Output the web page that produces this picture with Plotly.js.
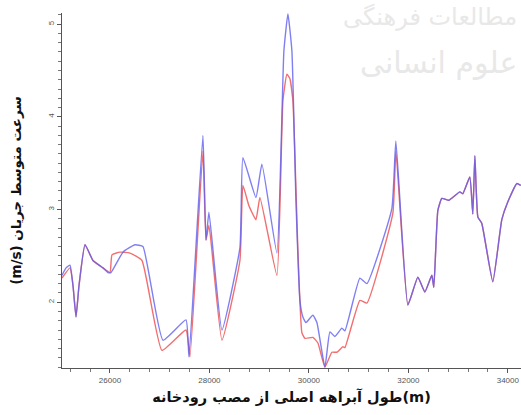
<!DOCTYPE html>
<html>
<head>
<meta charset="utf-8">
<script src="https://cdn.plot.ly/plotly-3.0.1.min.js"></script>
<style>html,body{margin:0;padding:0;background:#fff;}#chart{width:521px;height:415px;}</style>
</head>
<body>
<div id="chart"></div>
<script>
// Distance along main channel from river mouth (m)
const blueX = [25035,25116,25196,25256,25317,25377,25498,25658,25859,25960,26020,26261,26503,26663,27065,27528,27588,27869,27930,27990,28251,28613,28673,28935,29055,29357,29497,29578,29658,29739,29819,29879,29940,30080,30161,30322,30422,30523,30663,30724,31025,31166,31668,31749,31990,32191,32332,32472,32512,32593,32673,32814,32914,33035,33095,33236,33296,33337,33397,33477,33698,33879,33999,34181,34261];
const blueY = [2.29,2.37,2.40,2.18,1.84,2.18,2.62,2.45,2.37,2.32,2.32,2.54,2.62,2.60,1.59,1.81,1.41,3.80,2.67,2.97,1.70,2.59,3.56,3.13,3.49,2.53,4.71,5.11,4.71,3.10,2.02,1.84,1.78,1.86,1.78,1.30,1.68,1.63,1.72,1.69,2.26,2.20,3.01,3.74,1.97,2.27,2.11,2.29,2.16,2.99,3.12,3.10,3.14,3.19,3.17,3.35,2.95,3.58,2.92,2.85,2.22,2.89,3.08,3.28,3.26];

const redX = [25035,25196,25256,25317,25377,25498,25658,25859,26000,26040,26201,26402,26643,27045,27528,27608,27869,27930,27990,28251,28613,28673,28794,28935,29015,29357,29477,29558,29618,29678,29779,29859,29920,30080,30181,30322,30462,30563,30683,30724,31025,31166,31688,31749,31990,32191,32332,32472,32512,32593,32673,32814,32914,33035,33095,33236,33296,33337,33397,33477,33698,33879,33999,34181,34261];
const redY = [2.26,2.37,2.18,1.84,2.18,2.62,2.45,2.37,2.32,2.51,2.54,2.53,2.45,1.48,1.70,1.41,3.63,2.67,2.83,1.59,2.45,3.26,3.04,2.89,3.13,2.29,4.17,4.46,4.41,4.17,2.56,1.67,1.61,1.62,1.56,1.30,1.46,1.46,1.52,1.51,2.02,1.99,2.96,3.63,1.97,2.27,2.11,2.29,2.16,2.99,3.12,3.10,3.14,3.19,3.17,3.35,2.95,3.58,2.92,2.85,2.22,2.89,3.08,3.28,3.26];

const xTickVals = [26000,28000,30000,32000,34000];
const xTickText = ['26000','28000','30000','32000','34000'];
const yTickVals = [2,3,4,5];
const yTickText = ['2','3','4','5'];

const xTitle = 'طول آبراهه اصلی از مصب رودخانه(m)';
const yTitle = '(m/s) سرعت متوسط جریان';

const traces = [
  {x: redX, y: redY, type: 'scatter', mode: 'lines', line: {color: 'rgb(240,95,95)', width: 1.4, shape: 'spline', smoothing: 0.4}, opacity: 0.9, hoverinfo: 'skip'},
  {x: blueX, y: blueY, type: 'scatter', mode: 'lines', line: {color: 'rgb(95,95,240)', width: 1.4, shape: 'spline', smoothing: 0.4}, opacity: 0.8, hoverinfo: 'skip'}
];

const layout = {
  width: 521, height: 415,
  margin: {l: 62, r: 0, t: 13, b: 47},
  paper_bgcolor: '#fff', plot_bgcolor: '#fff',
  showlegend: false,
  font: {family: 'DejaVu Sans, sans-serif', color: '#222'},
  xaxis: {
    range: [25035, 34265], showgrid: false, zeroline: false,
    showline: true, linecolor: '#555', linewidth: 1,
    tickmode: 'array', tickvals: xTickVals, ticktext: xTickText,
    ticks: 'outside', ticklen: 4, tickcolor: '#555',
    tickfont: {size: 8, color: '#555', family: 'Liberation Sans, sans-serif'},
    minor: {dtick: 400, tick0: 26000, ticks: 'outside', ticklen: 3, tickcolor: '#777', showgrid: false},
    title: {text: xTitle, font: {size: 14.5, color: '#111', family: 'DejaVu Sans, sans-serif', weight: 'bold'}, standoff: 8}
  },
  yaxis: {
    range: [1.29, 5.12], showgrid: false, zeroline: false,
    showline: true, linecolor: '#555', linewidth: 1,
    tickmode: 'array', tickvals: yTickVals, ticktext: yTickText,
    ticks: 'outside', ticklen: 4, tickcolor: '#555', tickangle: -90,
    tickfont: {size: 8, color: '#555', family: 'Liberation Sans, sans-serif'},
    minor: {dtick: 0.1, tick0: 2, ticks: 'outside', ticklen: 3, tickcolor: '#777', showgrid: false},
    title: {text: yTitle, font: {size: 13.5, color: '#111', family: 'DejaVu Sans, sans-serif', weight: 'bold'}, standoff: 22}
  },
  annotations: [
    {text: 'مطالعات فرهنگی', xref: 'paper', yref: 'paper', x: 0.995, y: 1.035, xanchor: 'right', yanchor: 'top', showarrow: false, font: {size: 24, color: '#e8e8e8', family: 'DejaVu Sans'}},
    {text: 'علوم انسانی', xref: 'paper', yref: 'paper', x: 0.995, y: 0.86, xanchor: 'right', yanchor: 'middle', showarrow: false, font: {size: 30, color: '#e8e8e8', family: 'DejaVu Sans'}}
  ]
};

Plotly.newPlot('chart', traces, layout, {staticPlot: true, displayModeBar: false});
</script>
</body>
</html>
